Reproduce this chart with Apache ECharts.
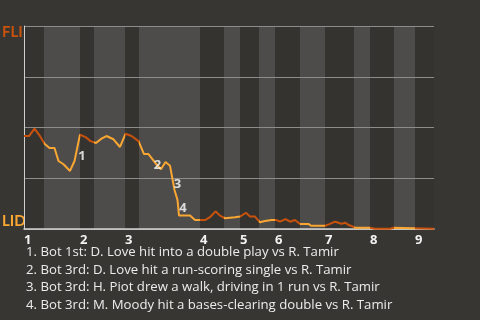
<!DOCTYPE html>
<html><head><meta charset="utf-8">
<script src="https://cdn.jsdelivr.net/npm/echarts@6/dist/echarts.min.js"></script>
<style>html,body{margin:0;padding:0;background:#383632;}#c{width:480px;height:320px;}</style>
</head><body><div id="c"></div>
<script>
// Half-inning boundaries (in play units), top halves are dark, bottom halves light
const halfInningEdges = [0, 4, 11.2, 14, 20.2, 23, 35.2, 40, 43.2, 47, 50.2, 55.2, 60.2, 66, 69.2, 74, 78.2, 82];
const inningLabels = ['1','2','3','4','5','6','7','8','9'];
// Win probability for FLI (%)
const playX = [0,1,2.1,3,4.1,5.1,6.1,6.9,7.9,9.2,10.1,11.2,12.3,13.3,14.4,15.5,16.5,17.9,19.2,20.3,21.5,22.9,23,24,24.9,25.2,26.3,27.4,28.3,29.2,30.1,30.7,31,33.2,34.2,36.2,37.2,38.3,39.2,40.2,42.2,43.2,44.4,45.2,46.2,47.2,48.2,49.5,50.5,51.2,52.3,53.2,54.2,55.2,56.9,57.4,60.2,61.2,62.2,62.9,63.5,64.2,64.9,65.5,66.2,69.2,70.2,73.2,73.9,74.2,82];
const winProb = [45.8,45.8,49.4,46.5,42.0,39.9,39.9,33.5,31.9,28.6,33.5,46.5,45.3,43.3,42.4,44.5,45.8,44.2,40.4,46.9,45.8,43.3,43.0,36.9,36.9,37.6,32.4,29.4,33.0,31.2,19.2,14.3,6.6,6.6,4.4,4.4,5.8,8.7,6.6,5.3,5.8,6.1,8.0,6.1,6.1,3.3,3.9,4.4,4.4,3.6,4.9,3.6,4.4,2.5,2.5,1.6,1.6,2.5,3.6,3.1,2.5,3.1,2.0,1.5,0.6,0.6,0.15,0.15,0.6,0.15,0.15];
const eventNums = ['1','2','3','4'];
const eventX = [11.6, 26.7, 30.7, 31.8];
const eventY = [36.0, 31.4, 22.2, 10.0];
const eventTexts = [
  '1. Bot 1st: D. Love hit into a double play vs R. Tamir',
  '2. Bot 3rd: D. Love hit a run-scoring single vs R. Tamir',
  '3. Bot 3rd: H. Piot drew a walk, driving in 1 run vs R. Tamir',
  '4. Bot 3rd: M. Moody hit a bases-clearing double vs R. Tamir'
];
const teamTop = 'FLI', teamBottom = 'LID';

const DARK = '#35332f', LIGHT = '#4d4c4a';
const LINE_DARK = '#c8520c', LINE_LIGHT = '#f9a632';
const bands = [], pieces = [];
for (let i = 0; i < halfInningEdges.length - 1; i++) {
  const top = i % 2 === 0;
  bands.push([{xAxis: halfInningEdges[i], itemStyle: {color: top ? DARK : LIGHT}}, {xAxis: halfInningEdges[i+1]}]);
  pieces.push({gte: halfInningEdges[i], lt: halfInningEdges[i+1] + (i === halfInningEdges.length - 2 ? 1 : 0), color: top ? LINE_DARK : LINE_LIGHT});
}
const inningStarts = halfInningEdges.filter((v, i) => i % 2 === 0 && i < halfInningEdges.length - 1);

const chart = echarts.init(document.getElementById('c'));
chart.setOption({
  backgroundColor: '#383632',
  animation: false,
  grid: {left: 24, right: 46, top: 26, bottom: 91},
  xAxis: {
    type: 'value', min: 0, max: 82, z: 3,
    axisLine: {show: true, lineStyle: {color: '#d2d2d2', width: 1.5}},
    axisTick: {show: false},
    splitLine: {show: false},
    axisLabel: {
      customValues: inningStarts,
      formatter: v => inningLabels[inningStarts.findIndex(s => Math.abs(s - v) < 1e-6)],
      align: 'left', color: '#f2f2f2', fontFamily: 'Open Sans', fontWeight: 'bold', fontSize: 13, margin: 5
    }
  },
  yAxis: {
    type: 'value', min: 0, max: 100, interval: 25, z: 3,
    axisLine: {show: true, lineStyle: {color: '#cfcfcf', width: 1}},
    axisTick: {show: false},
    axisLabel: {show: false},
    splitLine: {show: true, lineStyle: {color: '#8d8c8a', width: 1}}
  },
  visualMap: {show: false, type: 'piecewise', dimension: 0, seriesIndex: 0, pieces: pieces},
  series: [
    {
      type: 'line', z: 5,
      data: playX.map((x, i) => [x, winProb[i]]),
      showSymbol: false, symbol: 'none',
      lineStyle: {width: 2}
    },
    {
      type: 'scatter', z: 6, symbolSize: 0,
      data: eventX.map((x, i) => [x, eventY[i]]),
      label: {show: true, position: 'inside', formatter: p => eventNums[p.dataIndex],
        color: '#ffffff', fontFamily: 'Open Sans', fontWeight: 'bold', fontSize: 13}
    },
    {
      type: 'line', z: 1, data: [], silent: true,
      markArea: {silent: true, data: bands}
    }
  ],
  graphic: [
    {type: 'text', left: 2, top: 25, style: {text: teamTop, fill: LINE_DARK, font: 'bold 15px Lato'}},
    {type: 'text', left: 2, top: 214, style: {text: teamBottom, fill: LINE_LIGHT, font: 'bold 15px Lato'}}
  ].concat(eventTexts.map((t, i) => ({
    type: 'text', left: 26, top: 246 + i * 17.6,
    style: {text: t, fill: '#ececec', font: '13.2px "Open Sans"'}
  })))
});
</script></body></html>
